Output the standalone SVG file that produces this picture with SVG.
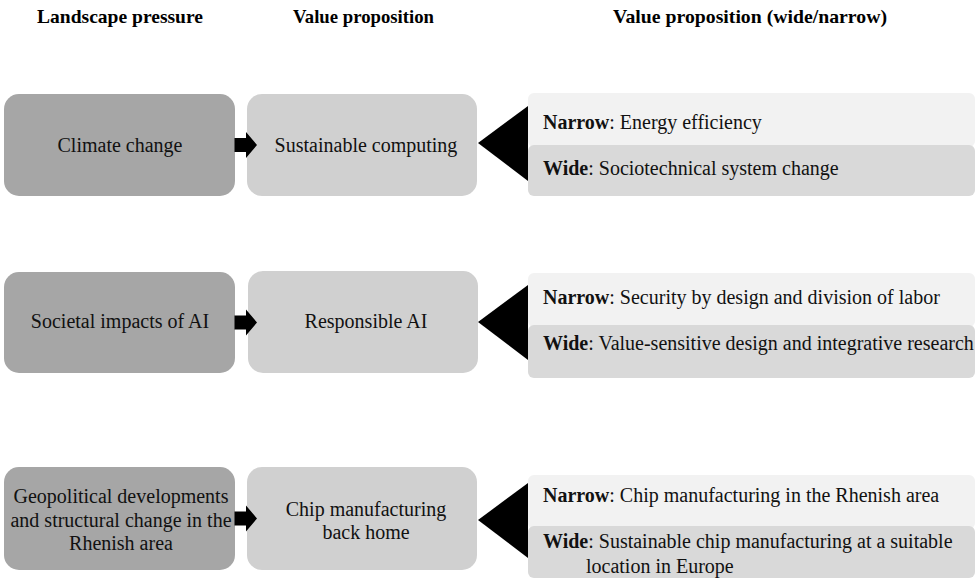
<svg xmlns="http://www.w3.org/2000/svg" width="975" height="579" viewBox="0 0 975 579">
  <style>
    .hdr { font-family: "Liberation Serif", "Times New Roman", serif; font-weight: bold; font-size: 19px; fill: #000; }
    .txt { font-family: "Liberation Serif", "Times New Roman", serif; font-size: 20px; fill: #111; }
    .mid { text-anchor: middle; }
    .pressure { fill: #a6a6a6; }
    .prop { fill: #d0d0d0; }
    .narrow { fill: #f2f2f2; }
    .wide { fill: #d9d9d9; }
    .arrow { fill: #000; }
    .b { font-weight: bold; }
  </style>
  <defs>
    <!-- block arrow pointing right, origin at its tail centre -->
    <path id="blockArrow" d="M0,-7 H11.5 V-13 L22.5,0 L11.5,13 V7 H0 Z"/>
  </defs>

  <rect width="975" height="579" fill="#fff"/>

  <!-- column headings -->
  <g id="headings">
    <text class="hdr" x="37" y="23" textLength="166" lengthAdjust="spacingAndGlyphs">Landscape pressure</text>
    <text class="hdr" x="293" y="23" textLength="141" lengthAdjust="spacingAndGlyphs">Value proposition</text>
    <text class="hdr" x="613" y="23" textLength="274" lengthAdjust="spacingAndGlyphs">Value proposition (wide/narrow)</text>
  </g>

  <!-- row 1 -->
  <g id="climate-change">
    <rect class="pressure" x="4" y="94" width="231" height="102" rx="15"/>
    <text class="txt mid" x="120" y="152">Climate change</text>
  </g>
  <g id="sustainable-computing">
    <rect class="prop" x="247" y="94" width="230" height="102" rx="15"/>
    <text class="txt mid" x="366" y="152">Sustainable computing</text>
  </g>
  <g id="sustainable-computing-scope">
    <rect class="narrow" x="528" y="93" width="447" height="54" rx="6"/>
    <rect class="wide" x="528" y="145" width="447" height="51" rx="6"/>
    <text class="txt" x="543" y="129"><tspan class="b">Narrow</tspan>: Energy efficiency</text>
    <text class="txt" x="543" y="175"><tspan class="b">Wide</tspan>: Sociotechnical system change</text>
  </g>

  <!-- row 2 -->
  <g id="societal-impacts">
    <rect class="pressure" x="4" y="272" width="231" height="101" rx="15"/>
    <text class="txt mid" x="120" y="328">Societal impacts of AI</text>
  </g>
  <g id="responsible-ai">
    <rect class="prop" x="248" y="271" width="230" height="102" rx="15"/>
    <text class="txt mid" x="366" y="328">Responsible AI</text>
  </g>
  <g id="responsible-ai-scope">
    <rect class="narrow" x="528" y="273" width="447" height="54" rx="6"/>
    <rect class="wide" x="528" y="325" width="447" height="53" rx="6"/>
    <text class="txt" x="543" y="304"><tspan class="b">Narrow</tspan>: Security by design and division of labor</text>
    <text class="txt" x="543" y="350"><tspan class="b">Wide</tspan>: Value-sensitive design and integrative research</text>
  </g>

  <!-- row 3 -->
  <g id="geopolitical-developments">
    <rect class="pressure" x="4" y="467" width="231" height="103" rx="15"/>
    <text class="txt mid" x="121" y="503">Geopolitical developments</text>
    <text class="txt mid" x="121" y="527">and structural change in the</text>
    <text class="txt mid" x="121" y="550">Rhenish area</text>
  </g>
  <g id="chip-manufacturing">
    <rect class="prop" x="247" y="467" width="230" height="103" rx="15"/>
    <text class="txt mid" x="366" y="516">Chip manufacturing</text>
    <text class="txt mid" x="366" y="539">back home</text>
  </g>
  <g id="chip-manufacturing-scope">
    <rect class="narrow" x="528" y="475" width="447" height="54" rx="6"/>
    <rect class="wide" x="528" y="526" width="447" height="52" rx="6"/>
    <text class="txt" x="543" y="502"><tspan class="b">Narrow</tspan>: Chip manufacturing in the Rhenish area</text>
    <text class="txt" x="543" y="548"><tspan class="b">Wide</tspan>: Sustainable chip manufacturing at a suitable</text>
    <text class="txt" x="586" y="573">location in Europe</text>
  </g>

  <!-- connectors: block arrows and wedge pointers, drawn over the box edges -->
  <g id="connectors" class="arrow">
    <use href="#blockArrow" x="234.5" y="145"/>
    <use href="#blockArrow" x="234.5" y="322.5"/>
    <use href="#blockArrow" x="234.5" y="518.5"/>
    <polygon points="478,143 528,106 528,181"/>
    <polygon points="478,322 528,285 528,360"/>
    <polygon points="478,520 528,483 528,558"/>
  </g>
</svg>
